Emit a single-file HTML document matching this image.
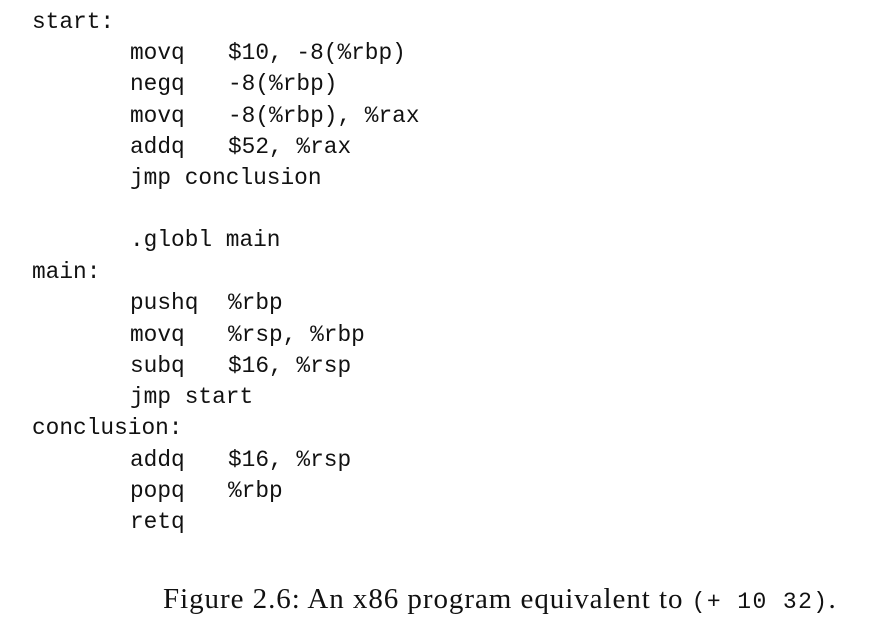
<!DOCTYPE html>
<html><head><style>
body{margin:0;background:#fff;width:877px;height:638px;position:relative;overflow:hidden}
.r{position:absolute;height:32px;line-height:32px;font-family:"Liberation Mono",monospace;font-size:22.8px;color:#111;white-space:pre}
.cap{position:absolute;left:163px;top:583px;font-family:"Liberation Serif",serif;font-size:29px;letter-spacing:0.95px;color:#111;white-space:pre;line-height:32px}
.cap span{font-family:"Liberation Mono",monospace;font-size:23px;letter-spacing:1.4px}
</style></head><body>
<div class="r" style="left:32px;top:6px">start:</div>
<div class="r" style="left:130px;top:37px">movq</div><div class="r" style="left:228px;top:37px">$10, -8(%rbp)</div>
<div class="r" style="left:130px;top:68px">negq</div><div class="r" style="left:228px;top:68px">-8(%rbp)</div>
<div class="r" style="left:130px;top:100px">movq</div><div class="r" style="left:228px;top:100px">-8(%rbp), %rax</div>
<div class="r" style="left:130px;top:131px">addq</div><div class="r" style="left:228px;top:131px">$52, %rax</div>
<div class="r" style="left:130px;top:162px">jmp conclusion</div>
<div class="r" style="left:130px;top:224px">.globl main</div>
<div class="r" style="left:32px;top:256px">main:</div>
<div class="r" style="left:130px;top:287px">pushq</div><div class="r" style="left:228px;top:287px">%rbp</div>
<div class="r" style="left:130px;top:319px">movq</div><div class="r" style="left:228px;top:319px">%rsp, %rbp</div>
<div class="r" style="left:130px;top:350px">subq</div><div class="r" style="left:228px;top:350px">$16, %rsp</div>
<div class="r" style="left:130px;top:381px">jmp start</div>
<div class="r" style="left:32px;top:412px">conclusion:</div>
<div class="r" style="left:130px;top:444px">addq</div><div class="r" style="left:228px;top:444px">$16, %rsp</div>
<div class="r" style="left:130px;top:475px">popq</div><div class="r" style="left:228px;top:475px">%rbp</div>
<div class="r" style="left:130px;top:506px">retq</div>
<div class="cap">Figure 2.6: An x86 program equivalent to <span>(+ 10 32)</span>.</div>
</body></html>
